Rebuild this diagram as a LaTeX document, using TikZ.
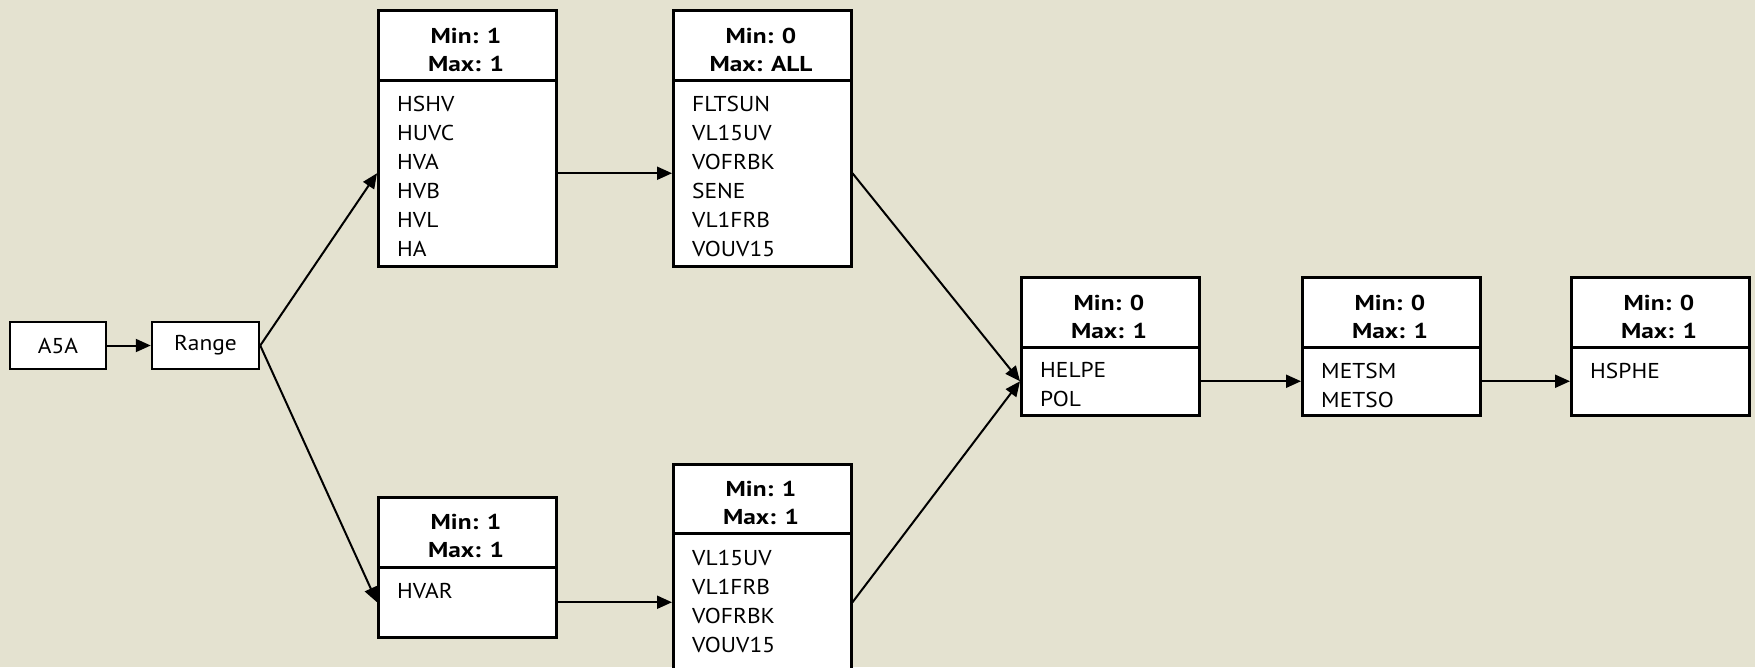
\documentclass[tikz,border=0pt]{standalone}
\usepackage{fontspec}
\setmainfont{PT Sans}[FakeStretch=1.09, BoldFeatures={FakeStretch=1.18}]
\usetikzlibrary{arrows.meta}
\definecolor{bg}{RGB}{228,226,208}
\begin{document}
\begin{tikzpicture}[x=1pt,y=-1pt,
  box/.style={draw=black, line width=2.5pt, fill=white, minimum width=178pt, inner sep=0pt, anchor=north west},
  small/.style={draw=black, line width=2.5pt, fill=white, minimum height=47pt, inner sep=0pt, font=\fontsize{21.5}{28}\selectfont},
  hdrtxt/.style={font=\fontsize{21.5}{28}\selectfont\bfseries, align=center, inner sep=0pt, anchor=north},
  itemtxt/.style={font=\fontsize{21.5}{29}\selectfont, align=left, inner sep=0pt, anchor=north west},
  link/.style={line width=2pt, -{Triangle[length=15pt,width=13pt]}},
]
\fill[bg] (0,0) rectangle (1755,667);
\useasboundingbox (0,0) rectangle (1755,667);

\node[small, minimum width=96pt] (a5a) at (58,345.5) {A5A};
\node[small, minimum width=107pt] (range) at (205.5,345.5) {Range};

% box 1
\node[box, minimum height=70pt] (b1h) at (377,9) {};
\node[box, minimum height=186pt] (b1) at (377,79) {};
\node[hdrtxt] (b1t) at (466,27.5) {Min: 1\\Max: 1};
\node[itemtxt] (b1i) at (397,95.5) {HSHV\\HUVC\\HVA\\HVB\\HVL\\HA};

% box 2
\node[box, minimum height=70pt] (b2h) at (672,9) {};
\node[box, minimum height=186pt] (b2) at (672,79) {};
\node[hdrtxt] (b2t) at (761,27.5) {Min: 0\\Max: ALL};
\node[itemtxt] (b2i) at (692,95.5) {FLTSUN\\VL15UV\\VOFRBK\\SENE\\VL1FRB\\VOUV15};

% box 3
\node[box, minimum height=70pt] (b3h) at (377,496) {};
\node[box, minimum height=70pt] (b3) at (377,566) {};
\node[hdrtxt] (b3t) at (466,513.5) {Min: 1\\Max: 1};
\node[itemtxt] (b3i) at (397,583.5) {HVAR};

% box 4
\node[box, minimum height=69pt] (b4h) at (672,463) {};
\node[box, minimum height=138pt] (b4) at (672,532) {};
\node[hdrtxt] (b4t) at (761,480.5) {Min: 1\\Max: 1};
\node[itemtxt] (b4i) at (692,549.5) {VL15UV\\VL1FRB\\VOFRBK\\VOUV15};

% box 5
\node[box, minimum height=70pt] (b5h) at (1020,276) {};
\node[box, minimum height=68pt] (b5) at (1020,346) {};
\node[hdrtxt] (b5t) at (1109,294.5) {Min: 0\\Max: 1};
\node[itemtxt] (b5i) at (1040,362.5) {HELPE\\POL};

% box 6
\node[box, minimum height=70pt] (b6h) at (1301,276) {};
\node[box, minimum height=68pt] (b6) at (1301,346) {};
\node[hdrtxt] (b6t) at (1390,294.5) {Min: 0\\Max: 1};
\node[itemtxt] (b6i) at (1321,362.5) {METSM\\METSO};

% box 7
\node[box, minimum height=70pt] (b7h) at (1570,276) {};
\node[box, minimum height=68pt] (b7) at (1570,346) {};
\node[hdrtxt] (b7t) at (1659,294.5) {Min: 0\\Max: 1};
\node[itemtxt] (b7i) at (1590,362.5) {HSPHE};

% connectors
\draw[link] (a5a) -- (range);
\draw[link] (range.east) -- (b1.west);
\draw[link] (range.east) -- (b3.west);
\draw[link] (b1.east) -- (b2.west);
\draw[link] (b3.east) -- (b4.west);
\draw[link] (b2.east) -- (b5.west);
\draw[link] (b4.east) -- (b5.west);
\draw[link] (b5.east) -- (b6.west);
\draw[link] (b6.east) -- (b7.west);
\end{tikzpicture}
\end{document}
